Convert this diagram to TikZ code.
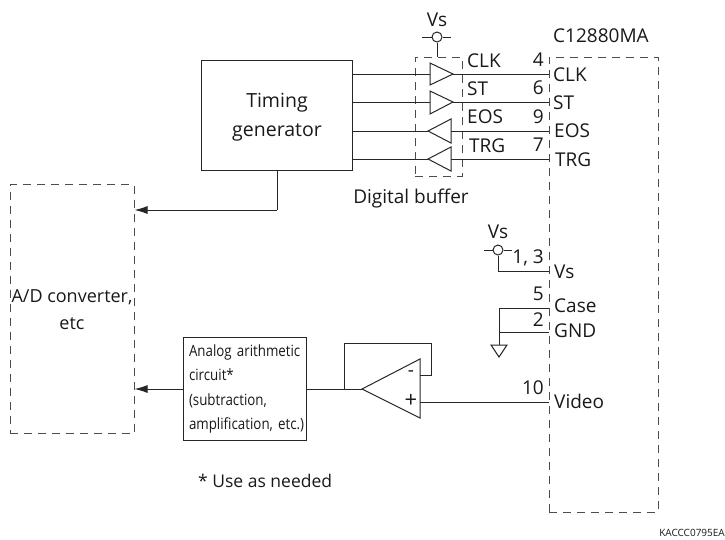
\documentclass[tikz,border=0pt]{standalone}
\usepackage{fontspec}
\setmainfont{Open Sans}
\newfontfamily\narrowfont[FakeStretch=0.86]{Open Sans}
\usetikzlibrary{arrows.meta}
\tikzset{
	wire/.style = {line width=1pt, black!85},
	dashbox/.style = {line width=1pt, black!70, dash pattern=on 8pt off 6pt},
	sig/.style = {font=\fontsize{19}{20}\selectfont, inner sep=0pt, text=black!90},
	lefttxt/.style = {sig, anchor=west},
	flow/.style = {wire, -{Latex[length=13pt,width=8pt]}}
}
\begin{document}
\begin{tikzpicture}[x=1pt,y=-1pt]
	\useasboundingbox (0,0) rectangle (725,539);
	% blocks
	\node [draw, wire, minimum width=151pt, minimum height=110pt, inner sep=0pt] (timing) at (277,115) {};
	\node [sig, align=center, font=\fontsize{19.5}{29}\selectfont] (timingtxt) at (277,117) {Timing\\generator};
	\node [draw, dashbox, minimum width=124pt, minimum height=249pt, inner sep=0pt] (adc) at (72,309) {};
	\node [sig, align=center, font=\fontsize{18}{27}\selectfont] (adctxt) at (72,310) {A/D converter,\\etc};
	\node [draw, wire, minimum width=123pt, minimum height=103pt, inner sep=0pt] (arith) at (244.5,388.5) {};
	\node [sig, text width=118pt, align=left, font=\narrowfont\fontsize{15.5}{24.5}\selectfont] (arithtxt) at (248,389) {Analog arithmetic\\circuit*\\(subtraction,\\amplification, etc.)};
	\node [draw, dashbox, minimum width=47pt, minimum height=119pt, inner sep=0pt] (buffer) at (438.5,116.5) {};
	\node [draw, dashbox, minimum width=109pt, minimum height=455pt, inner sep=0pt] (chip) at (603.5,284.5) {};

	% buffers
	\coordinate (A1) at (352,74);
	\coordinate (A2) at (352,102);
	\coordinate (A3) at (352,131);
	\coordinate (A4) at (352,159);
	\coordinate (P1) at (549,74);
	\coordinate (P2) at (549,102);
	\coordinate (P3) at (549,131);
	\coordinate (P4) at (549,159);
	\draw [wire] (430,63) -- (453,74) -- (430,85) -- cycle;
	\draw [wire] (430,91) -- (453,102) -- (430,114) -- cycle;
	\draw [wire] (451,119) -- (428,131) -- (451,143) -- cycle;
	\draw [wire] (451,147) -- (428,159) -- (451,171) -- cycle;
	\draw [wire] (A1) -- (430,74);
	\draw [wire] (453,74) -- (P1);
	\draw [wire] (A2) -- (430,102);
	\draw [wire] (453,102) -- (P2);
	\draw [wire] (P3) -- (451,131);
	\draw [wire] (428,131) -- (A3);
	\draw [wire] (P4) -- (451,159);
	\draw [wire] (428,159) -- (A4);

	% supply of the buffer
	\node [draw, wire, circle, minimum size=10pt, inner sep=0pt] (vsa) at (437,37) {};
	\draw [wire] (422,37) -- (vsa) -- (451,37);
	\draw [wire] (vsa) -- (vsa |- buffer.north);
	\node [sig] (vsatxt) at (437,20) {Vs};

	% supply of the chip
	\node [draw, wire, circle, minimum size=10pt, inner sep=0pt] (vsb) at (498,250) {};
	\coordinate (P5) at (549,271);
	\draw [wire] (484,250) -- (vsb) -- (512,250);
	\draw [wire] (vsb) -- (498,271) -- (P5);
	\node [sig] (vsbtxt) at (498,232) {Vs};

	% ground
	\coordinate (P6) at (549,308);
	\coordinate (P7) at (549,332);
	\coordinate (G) at (499,345);
	\draw [wire] (P6) -- (499,308) -- (G);
	\draw [wire] (P7) -- (499,332);
	\draw [wire] (491,345) -- (507,345) -- (499,357) -- cycle;

	% op amp
	\coordinate (P8) at (549,402);
	\coordinate (T) at (362,389);
	\draw [wire] (T) -- (420,359) -- (420,418) -- cycle;
	\draw [wire] (arith.east |- T) -- (T);
	\draw [wire] (344,389) -- (344,343) -- (431,343) -- (431,375) -- (420,375);
	\draw [wire] (420,402) -- (P8);
	\node [sig] (minus) at (411,374) {-};
	\node [sig, font=\fontsize{22}{22}\selectfont] (plus) at (411,401) {+};

	% signals to the converter
	\draw [wire] (timing.south) -- (277,210);
	\draw [flow] (277,210) -- (adc.east |- 0,210);
	\draw [flow] (arith.west |- T) -- (adc.east |- T);

	% pin names
	\node [lefttxt] at (467,61) {CLK};
	\node [lefttxt] at (467,89) {ST};
	\node [lefttxt] at (467,117) {EOS};
	\node [lefttxt] at (469,146) {TRG};
	\node [lefttxt] at (553,75) {CLK};
	\node [lefttxt] at (553,103) {ST};
	\node [lefttxt] at (554,131) {EOS};
	\node [lefttxt] at (555,160) {TRG};
	\node [lefttxt] at (554,272) {Vs};
	\node [lefttxt] at (554,306) {Case};
	\node [lefttxt] at (554,331) {GND};
	\node [lefttxt] at (554,401) {Video};
	% pin numbers
	\node [sig, anchor=east] at (544,60) {4};
	\node [sig, anchor=east] at (544,88) {6};
	\node [sig, anchor=east] at (544,117) {9};
	\node [sig, anchor=east] at (544,145) {7};
	\node [sig, anchor=east] at (544,258) {1, 3};
	\node [sig, anchor=east] at (544,294) {5};
	\node [sig, anchor=east] at (544,320) {2};
	\node [sig, anchor=east] at (544,388) {10};

	\node [sig] (buftxt) at (411,199) {Digital buffer};
	\node [lefttxt] (chiptxt) at (553,36) {C12880MA};
	\node [lefttxt, font=\fontsize{17.5}{20}\selectfont] (note) at (198,481) {* Use as needed};
	\node [sig, anchor=east, font=\fontsize{10}{10}\selectfont] (code) at (725,533) {KACCC0795EA};
\end{tikzpicture}
\end{document}
